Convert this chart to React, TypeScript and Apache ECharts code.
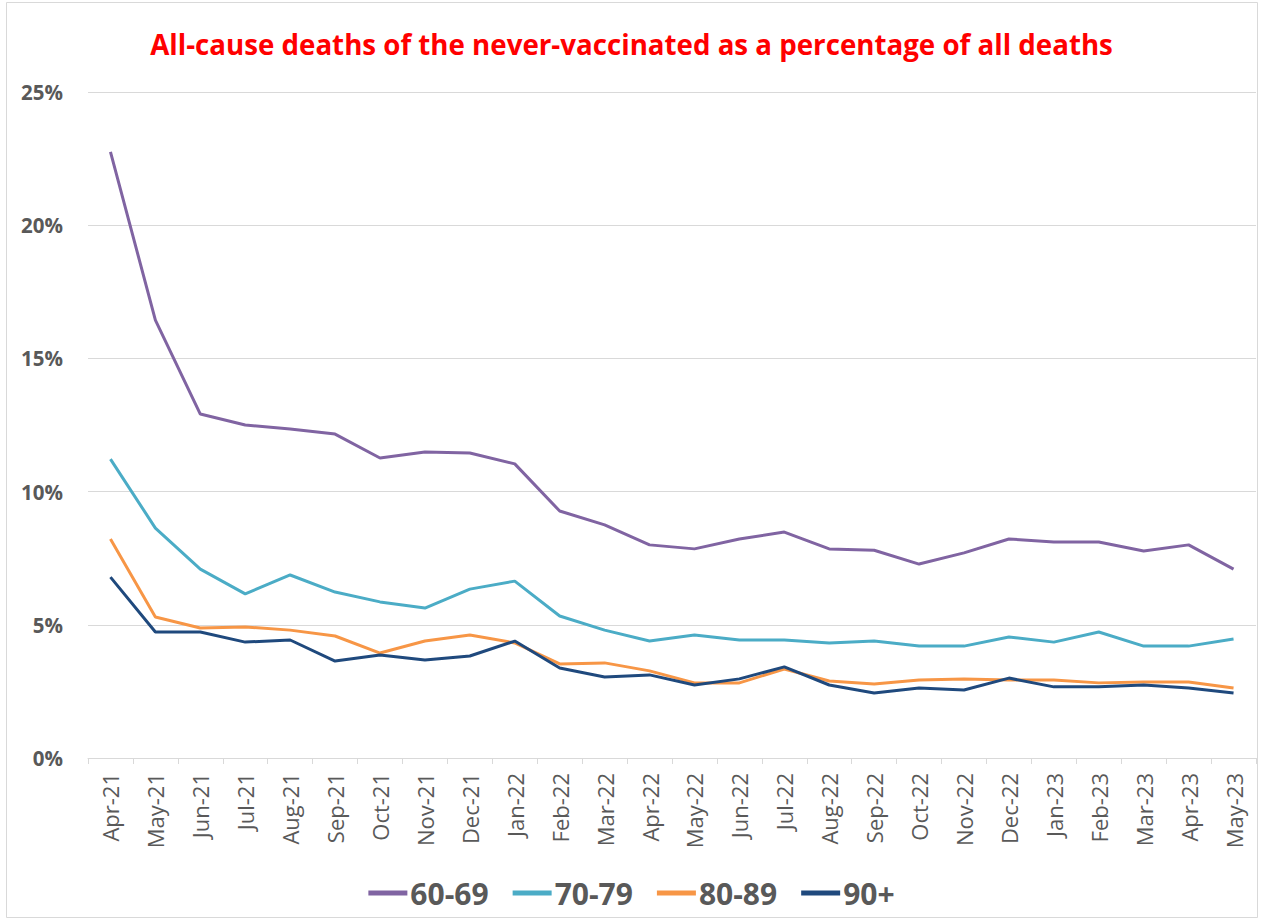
import React, { useEffect, useRef } from "react";
import * as echarts from "echarts";

const months = [
  "Apr-21", "May-21", "Jun-21", "Jul-21", "Aug-21", "Sep-21", "Oct-21", "Nov-21", "Dec-21",
  "Jan-22", "Feb-22", "Mar-22", "Apr-22", "May-22", "Jun-22", "Jul-22", "Aug-22", "Sep-22",
  "Oct-22", "Nov-22", "Dec-22", "Jan-23", "Feb-23", "Mar-23", "Apr-23", "May-23",
];

const s60 = [22.75, 16.44, 12.91, 12.5, 12.35, 12.16, 11.26, 11.49, 11.45, 11.04, 9.27, 8.75, 8.0,
  7.85, 8.22, 8.48, 7.85, 7.8, 7.28, 7.7, 8.22, 8.11, 8.11, 7.77, 8.0, 7.09];
const s70 = [11.22, 8.63, 7.09, 6.16, 6.87, 6.23, 5.86, 5.63, 6.34, 6.64, 5.33, 4.8, 4.39,
  4.62, 4.43, 4.43, 4.32, 4.39, 4.2, 4.2, 4.54, 4.35, 4.73, 4.2, 4.2, 4.47];
const s80 = [8.22, 5.29, 4.88, 4.92, 4.8, 4.58, 3.94, 4.39, 4.62, 4.32, 3.53, 3.57, 3.27,
  2.82, 2.82, 3.34, 2.89, 2.78, 2.93, 2.97, 2.93, 2.93, 2.82, 2.85, 2.85, 2.63];
const s90 = [6.79, 4.73, 4.73, 4.35, 4.43, 3.64, 3.87, 3.68, 3.83, 4.39, 3.38, 3.04, 3.12,
  2.74, 2.97, 3.42, 2.74, 2.44, 2.63, 2.55, 3.0, 2.67, 2.67, 2.74, 2.63, 2.44];

const seriesNames = ["60-69", "70-79", "80-89", "90+"];
const seriesData = [s60, s70, s80, s90];
const colors = ["#8064A2", "#4BACC6", "#F79646", "#1F497D"];

const titleText = "All-cause deaths of the never-vaccinated as a percentage of all deaths";
const FONT = "'Open Sans', 'Noto Sans', sans-serif";

export default function App() {
  const ref = useRef<HTMLDivElement>(null);
  useEffect(() => {
    if (!ref.current) return;
    const chart = echarts.init(ref.current, null, { renderer: "svg" });
    chart.setOption({
      animation: false,
      backgroundColor: "#ffffff",
      title: {
        text: titleText,
        left: "center",
        top: 25,
        textStyle: { color: "#FF0000", fontSize: 27.7, fontWeight: "bold", fontFamily: FONT },
      },
      legend: {
        bottom: 8,
        left: "center",
        icon: "rect",
        itemWidth: 39,
        itemHeight: 5,
        itemGap: 24,
        data: seriesNames,
        textStyle: { color: "#595959", fontSize: 30, fontWeight: "bold", fontFamily: FONT, padding: [0, 0, 0, -2] },
      },
      grid: { left: 88, right: 7, top: 92, bottom: 163 },
      xAxis: {
        type: "category",
        data: months,
        boundaryGap: true,
        axisLine: { lineStyle: { color: "#D9D9D9" } },
        axisTick: { show: true, alignWithLabel: false, length: 6, lineStyle: { color: "#D9D9D9" } },
        axisLabel: { rotate: 90, color: "#595959", fontSize: 22, fontFamily: FONT, margin: 15, interval: 0 },
      },
      yAxis: {
        type: "value",
        min: 0,
        max: 25,
        interval: 5,
        axisLine: { show: false },
        axisTick: { show: false },
        splitLine: { lineStyle: { color: "#D9D9D9", width: 1 } },
        axisLabel: {
          formatter: "{value}%",
          color: "#595959",
          fontSize: 20.5,
          fontWeight: "bold",
          fontFamily: FONT,
          margin: 25,
        },
      },
      graphic: [
        {
          type: "rect",
          shape: { x: 6.5, y: 2.5, width: 1251, height: 915 },
          style: { fill: "none", stroke: "#D9D9D9", lineWidth: 1 },
          silent: true,
        },
      ],
      series: seriesData.map((d, i) => ({
        name: seriesNames[i],
        type: "line",
        data: d,
        symbol: "none",
        color: colors[i],
        lineStyle: { width: 3, color: colors[i] },
      })),
    });
    return () => chart.dispose();
  }, []);
  return (
    <div
      ref={ref}
      style={{ position: "absolute", left: 0, top: 0, width: 1263, height: 921 }}
    />
  );
}
